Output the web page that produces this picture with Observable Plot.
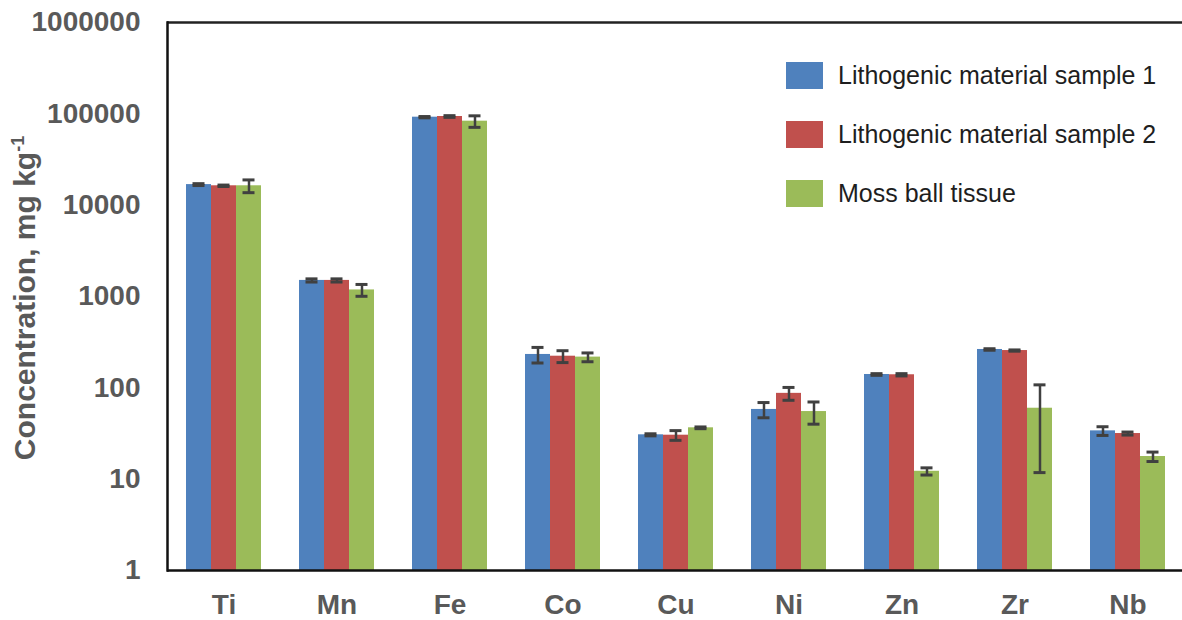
<!DOCTYPE html>
<html>
<head>
<meta charset="utf-8">
<script src="https://cdn.jsdelivr.net/npm/d3@7"></script>
<script src="https://cdn.jsdelivr.net/npm/@observablehq/plot@0.6"></script>
<style>
  body { margin: 0; background: #fff; font-family: "Liberation Sans", Arial, sans-serif; }
  #wrap { position: relative; width: 1182px; height: 620px; overflow: hidden; background: #fff; }
  #ytitle {
    position: absolute; left: 25px; top: 298px;
    transform: translate(-50%, -50%) rotate(-90deg);
    white-space: nowrap; font-weight: bold; font-size: 30px; line-height: 1;
    color: #595959;
  }
  #ytitle sup { font-size: 60%; vertical-align: 0.6em; line-height: 0; }
  #legend { position: absolute; left: 786px; top: 62px; }
  .item { display: flex; align-items: center; height: 27px; margin-bottom: 32px; }
  .swatch { width: 37px; height: 27px; margin-right: 15px; }
  .item span { font-size: 25px; color: #1e1e1e; white-space: nowrap; }
</style>
</head>
<body>
<div id="wrap">
  <div id="chart"></div>
  <div id="ytitle">Concentration, mg kg<sup>-1</sup></div>
  <div id="legend"></div>
</div>
<script>
// Elements analysed
const elements = ["Ti", "Mn", "Fe", "Co", "Cu", "Ni", "Zn", "Zr", "Nb"];

// Series names and fills
const seriesNames = ["Lithogenic material sample 1", "Lithogenic material sample 2", "Moss ball tissue"];
const seriesColors = ["#4F81BD", "#C0504D", "#9BBB59"];

// Concentrations (mg/kg) and their standard deviations
const sample1    = [16800, 1500, 91900, 232, 30.6, 58, 140, 263, 33.8];
const sample1Err = [400,   60,   1500,  45,  0.8,  11, 3,   5,   3.7];
const sample2    = [16300, 1500, 93500, 222, 30.3, 87, 139, 256, 31.6];
const sample2Err = [300,   60,   2000,  33,  3.7,  14, 4,   4,   1.2];
const moss       = [16300, 1180, 83100, 217, 36.5, 55, 12.2, 59.8, 17.7];
const mossErr    = [2600,  175,  12000, 24,  0.8,  15, 1.1, 48,  2.1];

// Log axis ticks
const yTicks = [1, 10, 100, 1000, 10000, 100000, 1000000];

const seriesData = [[sample1, sample1Err], [sample2, sample2Err], [moss, mossErr]];
const rows = [];
elements.forEach((el, i) => {
  seriesData.forEach(([vals, errs], k) => {
    rows.push({element: el, series: seriesNames[k], value: vals[i], err: errs[i]});
  });
});

const errColor = "#404040";

const chart = Plot.plot({
  width: 1182,
  height: 620,
  marginTop: 22,
  marginBottom: 50,
  marginLeft: 164,
  marginRight: -4,
  style: {fontFamily: "'Liberation Sans', Arial, sans-serif", background: "#fff", overflow: "visible"},
  fx: {domain: elements, padding: 0, label: null},
  x: {domain: seriesNames, paddingInner: 0, paddingOuter: 0.74, axis: null},
  y: {type: "log", domain: [1, 1e6], axis: null},
  color: {domain: seriesNames, range: seriesColors},
  marks: [
    Plot.barY(rows, {fx: "element", x: "series", y1: 1, y2: "value", fill: "series"}),
    // error bars
    Plot.ruleX(rows, {fx: "element", x: "series", y1: d => d.value - d.err, y2: d => d.value + d.err,
      stroke: errColor, strokeWidth: 2.5}),
    Plot.tickY(rows, {fx: "element", x: "series", y: d => d.value + d.err,
      stroke: errColor, strokeWidth: 3, insetLeft: 6.5, insetRight: 6.5}),
    Plot.tickY(rows, {fx: "element", x: "series", y: d => d.value - d.err,
      stroke: errColor, strokeWidth: 3, insetLeft: 6.5, insetRight: 6.5}),
    // plot frame: bottom, top and left edges
    Plot.ruleY([1], {stroke: "#111", strokeWidth: 2.5}),
    Plot.ruleY([1e6], {stroke: "#222", strokeWidth: 2.5}),
    Plot.frame({anchor: "left", facetAnchor: "left", stroke: "#111", strokeWidth: 2.5}),
    Plot.axisY({ticks: yTicks, tickFormat: d => String(d), tickSize: 0, tickPadding: 27,
      fontSize: 28, fontWeight: "bold", fill: "#595959", label: null}),
    Plot.axisFx({anchor: "bottom", tickSize: 0, tickPadding: 24, fontSize: 28, fontWeight: "bold",
      fill: "#595959", label: null})
  ]
});
document.getElementById("chart").appendChild(chart);

// Legend
const legend = document.getElementById("legend");
seriesNames.forEach((name, k) => {
  const item = document.createElement("div");
  item.className = "item";
  const sw = document.createElement("div");
  sw.className = "swatch";
  sw.style.background = seriesColors[k];
  const label = document.createElement("span");
  label.textContent = name;
  item.appendChild(sw);
  item.appendChild(label);
  legend.appendChild(item);
});
</script>
</body>
</html>
